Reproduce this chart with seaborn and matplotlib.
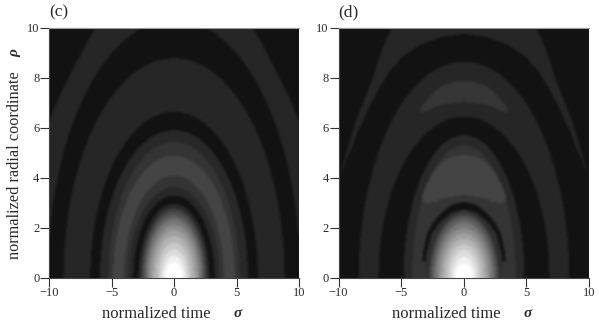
"""Two panels of banded grey contours, normalized time vs radial coordinate."""
import matplotlib
matplotlib.use('Agg')
import matplotlib.pyplot as plt
import numpy as np
import seaborn as sns
from matplotlib.path import Path

# quarter outline shared by the nearly elliptical contours (fraction of half width / apex)
UNIT_SIGMA = [0.0, 0.087, 0.174, 0.259, 0.342, 0.423, 0.5, 0.574, 0.643, 0.707,
              0.766, 0.819, 0.866, 0.906, 0.94, 0.966, 0.985, 0.996, 1.0]
UNIT_RHO = [1.0, 0.996, 0.985, 0.966, 0.94, 0.906, 0.866, 0.819, 0.766, 0.707,
            0.643, 0.574, 0.5, 0.423, 0.342, 0.259, 0.174, 0.087, 0.0]

SIGMA_TICKS = [-10, -5, 0, 5, 10]
SIGMA_LABELS = ['\u221210', '\u22125', '0', '5', '10']
RHO_TICKS = [0, 2, 4, 6, 8, 10]

BACKGROUND = 18

# panel (c): stripe in the corners, then nested contours
C_STRIPE_SIGMA = [0.0, 6.1, 6.3, 7.0, 7.65, 8.35, 9.0, 9.5, 9.9, 10.3, 10.3]
C_STRIPE_RHO = [10.4, 10.4, 10.0, 9.42, 8.77, 8.1, 7.44, 6.9, 6.38, 5.9, 0.0]
C_STRIPE_GREY = 38
C_WIDTH = [10.1, 8.85, 6.7, 5.92, 5.25, 4.87, 4.0, 3.65, 3.25,
           2.85, 2.65, 2.5, 2.35, 2.2, 2.02, 1.82, 1.58, 1.32, 1.1, 0.88, 0.67]
C_APEX = [10.35, 8.8, 6.65, 5.92, 5.45, 4.9, 4.1, 3.64, 3.3,
          2.97, 2.8, 2.65, 2.48, 2.33, 2.12, 1.92, 1.68, 1.42, 1.15, 0.9, 0.63]
C_GREY = [18, 38, 18, 40, 52, 68, 52, 40, 18,
          40, 60, 80, 100, 120, 140, 160, 180, 200, 220, 240, 255]

# panel (d): corner stripe, crescents between the nested contours
D_STRIPE_OUT_SIGMA = [0.0, 5.6, 5.8, 6.6, 7.3, 8.0, 8.7, 9.3, 10.0, 10.2, 10.3]
D_STRIPE_OUT_RHO = [10.4, 10.4, 10.0, 9.1, 8.0, 7.1, 6.2, 5.2, 4.05, 3.6, 0.0]
D_STRIPE_IN_SIGMA = [0.0, 1.8, 3.5, 4.8, 5.9, 6.9, 7.7, 8.5, 9.07, 10.0, 10.2, 10.3]
D_STRIPE_IN_RHO = [9.76, 9.64, 9.33, 8.9, 8.3, 7.5, 6.7, 5.85, 5.1, 4.05, 3.6, 0.0]
D_STRIPE_GREY = 38

D_OUTER_WIDTH = [8.43]
D_OUTER_APEX = [8.66]
D_OUTER_GREY = [38]

D_UPPER_SIGMA = [0.0, 0.8, 1.6, 2.3, 2.9, 3.4, 3.5, 2.95, 2.3, 1.6, 0.0]
D_UPPER_RHO = [7.9, 7.85, 7.72, 7.48, 7.15, 6.85, 6.62, 6.68, 6.85, 6.96, 7.03]
D_UPPER_GREY = 54

D_MIDDLE_WIDTH = [6.85, 4.84, 4.16]
D_MIDDLE_APEX = [6.45, 5.72, 5.32]
D_MIDDLE_GREY = [18, 40, 52]

D_LOBE_SIGMA = [0.0, 0.7, 1.25, 1.9, 2.5, 3.0, 3.35, 3.3, 3.0, 2.3, 1.6, 0.0]
D_LOBE_RHO = [4.92, 4.88, 4.8, 4.55, 4.2, 3.75, 3.3, 3.05, 3.0, 3.05, 3.2, 3.32]
D_LOBE_GREY = 68

D_DIP_SIGMA = [0.0, 1.0, 1.9, 2.5, 2.95, 3.2, 3.35, 3.1, 0.0]
D_DIP_RHO = [3.05, 2.93, 2.57, 2.2, 1.77, 1.2, 0.7, 0.65, 1.0]
D_DIP_GREY = 18

D_RIM_SIGMA = [0.0, 1.0, 1.8, 2.6, 3.0, 3.05, 2.95]
D_RIM_RHO = [2.75, 2.62, 2.3, 1.77, 1.0, 0.6, 0.0]
D_RIM_GREY = 46

D_CORE_WIDTH = [2.8, 2.65, 2.48, 2.32, 2.12, 1.9, 1.66, 1.4, 1.15, 0.9, 0.7]
D_CORE_APEX = [2.6, 2.48, 2.35, 2.2, 2.0, 1.8, 1.58, 1.36, 1.12, 0.85, 0.58]
D_CORE_GREY = [66, 84, 100, 120, 140, 160, 180, 200, 220, 240, 255]

N = 250
FONT = ['Liberation Serif', 'DejaVu Serif']
INK = '#2a2a2a'


def paint(grid, half_sigma, half_rho, grey):
    """Fill the outline, mirrored around sigma=0, into the grid."""
    half_sigma = np.asarray(half_sigma, dtype=float)
    half_rho = np.asarray(half_rho, dtype=float)
    xy = np.column_stack([np.r_[half_sigma, -half_sigma[::-1]], np.r_[half_rho, half_rho[::-1]]])
    centers_x = -10 + (np.arange(N) + 0.5) * 20 / N
    centers_y = 10 - (np.arange(N) + 0.5) * 10 / N
    xx, yy = np.meshgrid(centers_x, centers_y)
    inside = Path(xy).contains_points(np.column_stack([xx.ravel(), yy.ravel()])).reshape(N, N)
    grid[inside] = grey


def paint_nested(grid, widths, apexes, greys):
    for w, a, g in zip(widths, apexes, greys):
        paint(grid, np.array(UNIT_SIGMA) * w, np.array(UNIT_RHO) * a, g)


def soften(grid):
    """The scan is a bit soft, so smear the band edges over a couple of cells."""
    out = np.pad(grid, 3, mode='edge')
    for _ in range(2):
        for axis in (0, 1):
            out = (np.roll(out, 1, axis) + out + np.roll(out, -1, axis)) / 3
    return out[3:-3, 3:-3]


def panel_c():
    grid = np.full((N, N), float(BACKGROUND))
    paint(grid, C_STRIPE_SIGMA, C_STRIPE_RHO, C_STRIPE_GREY)
    paint_nested(grid, C_WIDTH, C_APEX, C_GREY)
    return soften(grid)


def panel_d():
    grid = np.full((N, N), float(BACKGROUND))
    paint(grid, D_STRIPE_OUT_SIGMA, D_STRIPE_OUT_RHO, D_STRIPE_GREY)
    paint(grid, D_STRIPE_IN_SIGMA, D_STRIPE_IN_RHO, BACKGROUND)
    paint_nested(grid, D_OUTER_WIDTH, D_OUTER_APEX, D_OUTER_GREY)
    paint(grid, D_UPPER_SIGMA, D_UPPER_RHO, D_UPPER_GREY)
    paint_nested(grid, D_MIDDLE_WIDTH, D_MIDDLE_APEX, D_MIDDLE_GREY)
    paint(grid, D_LOBE_SIGMA, D_LOBE_RHO, D_LOBE_GREY)
    paint(grid, D_DIP_SIGMA, D_DIP_RHO, D_DIP_GREY)
    paint(grid, D_RIM_SIGMA, D_RIM_RHO, D_RIM_GREY)
    paint_nested(grid, D_CORE_WIDTH, D_CORE_APEX, D_CORE_GREY)
    return soften(grid)


def draw(ax, grid, tag):
    sns.heatmap(grid, vmin=0, vmax=255, cmap='gray', cbar=False, ax=ax,
                xticklabels=False, yticklabels=False, rasterized=True)
    ax.set_xticks([(v + 10) / 20 * N for v in SIGMA_TICKS])
    ax.set_xticklabels(SIGMA_LABELS, fontsize=9, family=FONT, color=INK)
    ax.set_yticks([N - v / 10 * N for v in RHO_TICKS])
    ax.set_yticklabels([str(v) for v in RHO_TICKS], fontsize=9, family=FONT, color=INK, rotation=0)
    ax.tick_params(axis='both', bottom=True, left=True, length=6.5, width=0.8, color='#333333', pad=0.5)
    for name, spine in ax.spines.items():
        spine.set_visible(name != 'right')
        spine.set_linewidth(0.8)
        spine.set_color('#999999' if name == 'top' else '#444444')
    ax.text(0.0, 1.045, tag, transform=ax.transAxes, fontsize=12.5, family=FONT, color=INK, ha='left')
    ax.text(0.431, -0.145, 'normalized time', transform=ax.transAxes, fontsize=12,
            family=FONT, color=INK, ha='center', va='center')
    ax.text(0.756, -0.145, '\u03c3', transform=ax.transAxes, fontsize=11, family=FONT,
            style='italic', weight='bold', color=INK, ha='center', va='center')


sns.set_theme(style='white')
fig = plt.figure(figsize=(5.99, 3.26), dpi=100)
W, H = 599.0, 326.0
ax_c = fig.add_axes([49 / W, (H - 277.5) / H, 250 / W, 249.5 / H])
ax_d = fig.add_axes([338.5 / W, (H - 277.5) / H, 250.5 / W, 249.5 / H])
draw(ax_c, panel_c(), '(c)')
draw(ax_d, panel_d(), '(d)')
ax_c.text(-0.136, 0.452, 'normalized radial coordinate', transform=ax_c.transAxes, fontsize=11.7,
          family=FONT, color=INK, rotation=90, ha='center', va='center')
ax_c.text(-0.136, 0.9, '\u03c1', transform=ax_c.transAxes, fontsize=11, family=FONT,
          style='italic', weight='bold', color=INK, rotation=90, ha='center', va='center')
fig.savefig('out.png', dpi=100)
